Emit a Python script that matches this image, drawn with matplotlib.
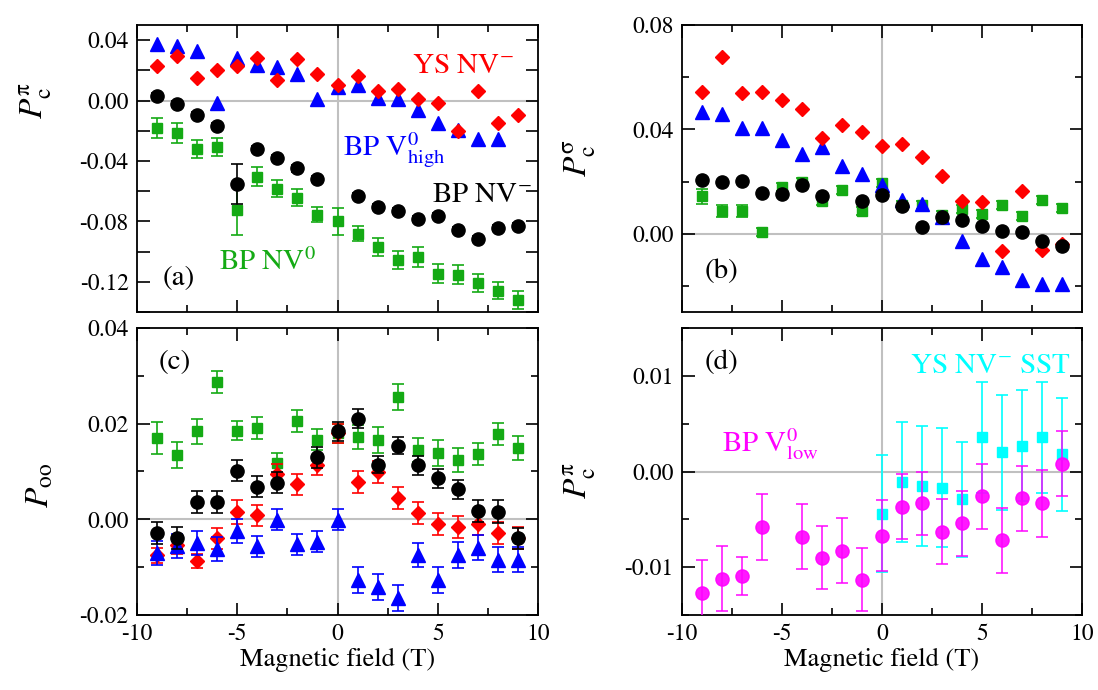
import numpy as np
import matplotlib
matplotlib.use('Agg')
import matplotlib.pyplot as plt
from matplotlib.ticker import MultipleLocator, FuncFormatter

plt.rcParams['font.family'] = ['STIXGeneral', 'DejaVu Serif']
plt.rcParams['mathtext.fontset'] = 'stix'
plt.rcParams['axes.unicode_minus'] = False

nan = np.nan
field = [-9, -8, -7, -6, -5, -4, -3, -2, -1, 0, 1, 2, 3, 4, 5, 6, 7, 8, 9]
field_sst = [0, 1, 2, 3, 4, 5, 6, 7, 8, 9]

# ---- panel (a): P_c^pi
a_ys_nvm = [0.0227, 0.0294, 0.0150, 0.0205, 0.0227, 0.0283, 0.0135, 0.0276, 0.0177, 0.0102,
            0.0161, 0.0066, 0.0079, 0.0007, -0.0015, -0.0199, 0.0062, -0.0148, -0.0093]
a_bp_vhigh = [0.0371, 0.0360, 0.0327, -0.0015, 0.0283, 0.0238, 0.0221, 0.0177, 0.0007, 0.0088,
              0.0102, 0.0018, 0.0007, -0.0060, -0.0148, -0.0192, -0.0254, -0.0254, nan]
a_bp_nvm = [0.0033, -0.0026, -0.0093, -0.0166, -0.0550, -0.0320, -0.0380, -0.0450, -0.0519, nan,
            -0.0634, -0.0704, -0.0733, -0.0782, -0.0766, -0.0854, -0.0914, -0.0843, -0.0832]
a_bp_nvm_err = [0.002, 0.002, 0.002, 0.002, 0.0132, 0.002, 0.002, 0.002, 0.002, nan,
                0.002, 0.002, 0.002, 0.002, 0.002, 0.002, 0.002, 0.002, 0.002]
a_bp_nv0 = [-0.0181, -0.0214, -0.0320, -0.0307, -0.0722, -0.0506, -0.0583, -0.0645, -0.0755, -0.0799,
            -0.0883, -0.0969, -0.1053, -0.1036, -0.1148, -0.1153, -0.1208, -0.1259, -0.1323]
a_bp_nv0_err = [0.0064, 0.0066, 0.0059, 0.0060, 0.0166, 0.0063, 0.0058, 0.0056, 0.0052, 0.0090,
                0.0050, 0.0060, 0.0060, 0.0064, 0.0063, 0.0062, 0.0058, 0.0057, 0.0060]

# ---- panel (b): P_c^sigma
b_ys_nvm = [0.0545, 0.0679, 0.0541, 0.0545, 0.0513, 0.0477, 0.0366, 0.0417, 0.0389, 0.0338,
            0.0345, 0.0293, 0.0222, 0.0124, 0.0120, -0.0065, 0.0162, -0.0061, -0.0040]
b_bp_vhigh = [0.0468, 0.0458, 0.0407, 0.0404, 0.0360, 0.0305, 0.0334, 0.0258, 0.0228, 0.0188,
              0.0130, 0.0114, 0.0066, -0.0027, -0.0096, -0.0129, -0.0176, -0.0193, -0.0193]
b_bp_nvm = [0.0207, 0.0200, 0.0203, 0.0156, 0.0152, 0.0185, 0.0143, nan, 0.0124, 0.0149,
            0.0108, 0.0026, 0.0063, 0.0054, 0.0031, 0.0011, 0.0005, -0.0029, -0.0048]
b_bp_nv0 = [0.0143, 0.0088, 0.0088, 0.0006, 0.0179, 0.0200, 0.0124, 0.0168, 0.0088, 0.0194,
            0.0111, 0.0111, 0.0073, 0.0094, 0.0075, 0.0111, 0.0069, 0.0130, 0.0098]
b_bp_nv0_err = [0.0028, 0.0022, 0.0022, 0.0015, 0.0015, 0.0015, 0.0015, 0.0015, 0.0015, 0.0015,
                0.0015, 0.0015, 0.0015, 0.0015, 0.0015, 0.0015, 0.0015, 0.0015, 0.0015]

# ---- panel (c): P_oo
c_bp_nv0 = [0.0170, 0.0135, 0.0184, 0.0287, 0.0185, 0.0191, 0.0117, 0.0205, 0.0166, 0.0180,
            0.0173, 0.0166, 0.0256, 0.0145, 0.0138, 0.0124, 0.0137, 0.0179, 0.0149]
c_bp_nv0_err = [0.0033, 0.0027, 0.0026, 0.0023, 0.0020, 0.0023, 0.0022, 0.0023, 0.0022, 0.0020,
                0.0025, 0.0027, 0.0027, 0.0025, 0.0027, 0.0025, 0.0023, 0.0023, 0.0025]
c_bp_nvm = [-0.0029, -0.0038, 0.0036, 0.0036, 0.0102, 0.0068, 0.0077, nan, 0.0130, 0.0184,
            0.0210, 0.0114, 0.0154, 0.0113, 0.0086, 0.0063, 0.0017, 0.0016, -0.0040]
c_bp_nvm_err = [0.0023, 0.0023, 0.0023, 0.0023, 0.0022, 0.0022, 0.0022, nan, 0.0022, 0.0020,
                0.0020, 0.0018, 0.0018, 0.0020, 0.0020, 0.0020, 0.0023, 0.0024, 0.0022]
c_ys_nvm = [-0.0075, -0.0054, -0.0087, -0.0040, 0.0015, 0.0009, 0.0095, 0.0073, 0.0113, 0.0180,
            0.0078, 0.0098, 0.0044, 0.0013, -0.0010, -0.0017, -0.0010, -0.0029, -0.0038]
c_ys_nvm_err = [0.0016, 0.0018, 0.0015, 0.0022, 0.0025, 0.0022, 0.0020, 0.0022, 0.0020, 0.0020,
                0.0023, 0.0023, 0.0023, 0.0023, 0.0023, 0.0023, 0.0023, 0.0023, 0.0023]
c_bp_vhigh = [-0.0071, -0.0056, -0.0050, -0.0062, -0.0024, -0.0056, -0.0001, -0.0052, -0.0047, -0.0001,
              -0.0127, -0.0141, -0.0164, -0.0075, -0.0127, -0.0075, -0.0059, -0.0084, -0.0084]
c_bp_vhigh_err = [0.0025, 0.0025, 0.0025, 0.0025, 0.0025, 0.0022, 0.0022, 0.0022, 0.0022, 0.0022,
                  0.0027, 0.0027, 0.0027, 0.0025, 0.0027, 0.0027, 0.0027, 0.0027, 0.0027]

# ---- panel (d): P_c^pi
d_bp_vlow = [-0.0127, -0.0112, -0.0109, -0.0058, nan, -0.0068, -0.0090, -0.0083, -0.0113, -0.0067,
             -0.0037, -0.0033, -0.0063, -0.0054, -0.0026, -0.0072, -0.0028, -0.0033, 0.0008]
d_bp_vlow_err = [0.0034, 0.0034, 0.0020, 0.0034, nan, 0.0034, 0.0033, 0.0034, 0.0033, 0.0037,
                 0.0034, 0.0033, 0.0034, 0.0034, 0.0034, 0.0034, 0.0034, 0.0035, 0.0034]
d_ys_sst = [-0.0044, -0.0011, -0.0015, -0.0017, -0.0029, 0.0036, 0.0020, 0.0027, 0.0036, 0.0018]
d_ys_sst_err = [0.0061, 0.0063, 0.0063, 0.0062, 0.0060, 0.0058, 0.0060, 0.0058, 0.0058, 0.0059]

RED, BLUE, BLACK, GREEN = '#ff0000', '#0000ff', '#000000', '#14aa14'
CYAN, MAGENTA = '#00ffff', '#ff00ff'

W, H = 1098, 690
fig = plt.figure(figsize=(W / 100, H / 100), dpi=100)


def ax_at(l, r, t, b):
    return fig.add_axes([l / W, 1 - b / H, (r - l) / W, (b - t) / H])


axa = ax_at(137, 538, 25, 312)
axb = ax_at(682, 1082, 25, 312)
axc = ax_at(137, 538, 328, 615)
axd = ax_at(682, 1082, 328, 615)


def style(ax, ylim, major, minor, label_step, xlabels):
    ax.set_xlim(-10, 10)
    ax.set_ylim(*ylim)
    ax.xaxis.set_major_locator(MultipleLocator(5))
    ax.xaxis.set_minor_locator(MultipleLocator(2.5))
    ax.yaxis.set_major_locator(MultipleLocator(major))
    if minor:
        ax.yaxis.set_minor_locator(MultipleLocator(minor))

    def fmt(v, pos):
        k = v / label_step
        if abs(k - round(k)) > 1e-6:
            return ''
        return '%.2f' % v
    ax.yaxis.set_major_formatter(FuncFormatter(fmt))
    ax.xaxis.set_major_formatter(FuncFormatter(lambda v, p: '%d' % round(v)))
    ax.tick_params(which='both', direction='in', top=True, right=True, width=1.2,
                   labelsize=17, pad=6)
    ax.tick_params(which='major', length=9)
    ax.tick_params(which='minor', length=5)
    ax.axhline(0, color='#c0c0c0', lw=1.5, zorder=0)
    ax.axvline(0, color='#c0c0c0', lw=1.5, zorder=0)
    for s in ax.spines.values():
        s.set_linewidth(1.3)
    if not xlabels:
        ax.tick_params(labelbottom=False)
    else:
        ax.set_xlabel('Magnetic field (T)', fontsize=19, labelpad=2)


eb = dict(ls='none', capsize=4, elinewidth=1.2, capthick=1.2)

# (a)
axa.errorbar(field, a_bp_nv0, yerr=a_bp_nv0_err, fmt='s', color=GREEN, ms=7.5, zorder=2, **eb)
axa.errorbar(field, a_bp_nvm, yerr=a_bp_nvm_err, fmt='o', color=BLACK, ms=9.5, zorder=3, **eb)
axa.plot(field, a_bp_vhigh, '^', color=BLUE, ms=10, ls='none', zorder=4)
axa.plot(field, a_ys_nvm, 'D', color=RED, ms=7.6, ls='none', zorder=5)
style(axa, (-0.14, 0.05), 0.02, None, 0.04, False)
axa.text(3.7, 0.0185, 'YS NV$^{-}$', color=RED, fontsize=21)
axa.text(0.28, -0.0371, 'BP V$^{0}_{\\mathrm{high}}$', color=BLUE, fontsize=21)
axa.text(4.7, -0.0669, 'BP NV$^{-}$', color=BLACK, fontsize=21)
axa.text(-5.93, -0.1125, 'BP NV$^{0}$', color=GREEN, fontsize=21)
axa.text(-8.72, -0.1218, '(a)', color=BLACK, fontsize=21)

# (b)
axb.errorbar(field, b_bp_nv0, yerr=b_bp_nv0_err, fmt='s', color=GREEN, ms=7.5, zorder=2, **eb)
axb.plot(field, b_bp_vhigh, '^', color=BLUE, ms=10, ls='none', zorder=3)
axb.plot(field, b_ys_nvm, 'D', color=RED, ms=7.6, ls='none', zorder=4)
axb.plot(field, b_bp_nvm, 'o', color=BLACK, ms=9.5, ls='none', zorder=5)
style(axb, (-0.03, 0.08), 0.04, 0.02, 0.04, False)
axb.text(-8.85, -0.0168, '(b)', color=BLACK, fontsize=21)

# (c)
axc.errorbar(field, c_bp_nv0, yerr=c_bp_nv0_err, fmt='s', color=GREEN, ms=7.5, zorder=2, **eb)
axc.errorbar(field, c_ys_nvm, yerr=c_ys_nvm_err, fmt='D', color=RED, ms=7.6, zorder=3, **eb)
axc.errorbar(field, c_bp_vhigh, yerr=c_bp_vhigh_err, fmt='^', color=BLUE, ms=10, zorder=4, **eb)
axc.errorbar(field, c_bp_nvm, yerr=c_bp_nvm_err, fmt='o', color=BLACK, ms=9.5, zorder=5, **eb)
style(axc, (-0.02, 0.04), 0.02, 0.01, 0.02, True)
axc.text(-8.9, 0.0314, '(c)', color=BLACK, fontsize=21)

# (d)
axd.errorbar(field_sst, d_ys_sst, yerr=d_ys_sst_err, fmt='s', color=CYAN, ms=7.8, zorder=2, **eb)
axd.errorbar(field, d_bp_vlow, yerr=d_bp_vlow_err, fmt='o', color=MAGENTA, ms=9.5, zorder=3,
             alpha=0.9, **eb)
style(axd, (-0.015, 0.015), 0.01, 0.005, 0.01, True)
axd.text(-8.85, 0.0107, '(d)', color=BLACK, fontsize=21)
axd.text(-8.0, 0.0020, 'BP V$^{0}_{\\mathrm{low}}$', color=MAGENTA, fontsize=21)
axd.text(1.4, 0.0103, 'YS NV$^{-}$ SST', color=CYAN, fontsize=21)

# y labels
fig.text(36 / W, 1 - 100 / H, '$P_{\\mathrm{c}}^{\\mathrm{\\pi}}$', rotation=90, ha='center', va='center', fontsize=24)
fig.text(40 / W, 1 - 485 / H, '$P_{\\mathrm{oo}}$', rotation=90, ha='center', va='center', fontsize=24)
fig.text(580 / W, 1 - 158 / H, '$P_{\\mathrm{c}}^{\\mathrm{\\sigma}}$', rotation=90, ha='center', va='center', fontsize=24)
fig.text(580 / W, 1 - 480 / H, '$P_{\\mathrm{c}}^{\\mathrm{\\pi}}$', rotation=90, ha='center', va='center', fontsize=24)

fig.savefig('out.png', dpi=100)
